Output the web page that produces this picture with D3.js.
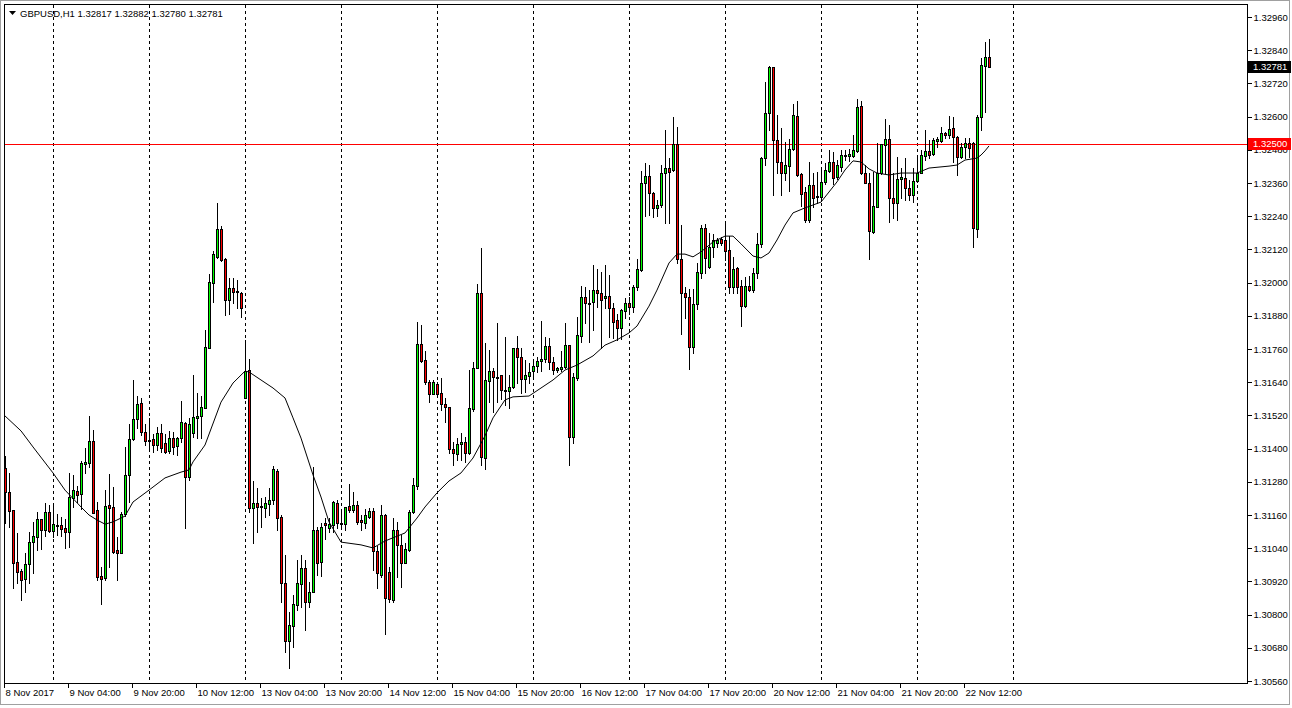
<!DOCTYPE html>
<html>
<head>
<meta charset="utf-8">
<script src="https://cdn.jsdelivr.net/npm/d3@7"></script>
<style>
  html, body { margin: 0; padding: 0; background: #ffffff; }
  svg { display: block; }
  text { font-family: "Liberation Sans", Arial, sans-serif; font-size: 9.5px; fill: #000; }
</style>
</head>
<body>
<svg id="chart" width="1292" height="708"></svg>
<script>
const symbolTitle = "GBPUSD,H1";
const lastBarOHLC = [1.32817, 1.32882, 1.32780, 1.32781];
const levelLine = 1.32500;

const openValues = [
1.31330,1.31243,1.31178,1.30990,1.30958,1.30929,1.30983,1.31062,1.31080,1.31146,
1.31106,1.31171,1.31102,1.31120,1.31124,1.31113,1.31099,1.31221,1.31247,1.31236,
1.31344,1.31348,1.31427,1.31178,1.30940,1.30932,1.31196,1.31189,1.31034,1.31023,
1.31164,1.31305,1.31435,1.31507,1.31565,1.31460,1.31427,1.31435,1.31413,1.31456,
1.31420,1.31391,1.31438,1.31409,1.31438,1.31493,1.31297,1.31456,1.31511,1.31518,
1.31547,1.31764,1.31999,1.32093,1.32194,1.32085,1.31937,1.31980,1.31970,1.31962,
1.31583,1.31684,1.31185,1.31203,1.31189,1.31185,1.31200,1.31214,1.31319,1.31153,
1.30914,1.30705,1.30759,1.30835,1.30911,1.30968,1.30846,1.30882,1.31106,1.30990,
1.31131,1.31113,1.31124,1.31203,1.31131,1.31127,1.31193,1.31178,1.31196,1.31142,
1.31131,1.31153,1.31174,1.31030,1.30943,1.31160,1.30954,1.30853,1.31106,1.31052,
1.30987,1.31034,1.31171,1.31265,1.31778,1.31720,1.31641,1.31597,1.31634,1.31601,
1.31561,1.31550,1.31399,1.31380,1.31417,1.31424,1.31384,1.31543,1.31691,1.31962,
1.31366,1.31644,1.31680,1.31655,1.31666,1.31612,1.31608,1.31623,1.31764,1.31731,
1.31652,1.31662,1.31680,1.31699,1.31717,1.31724,1.31771,1.31713,1.31684,1.31688,
1.31695,1.31774,1.31442,1.31655,1.31807,1.31948,1.31923,1.31930,1.31973,1.31962,
1.31944,1.31952,1.31908,1.31865,1.31836,1.31897,1.31926,1.31912,1.31984,1.32046,
1.32360,1.32385,1.32324,1.32270,1.32280,1.32396,1.32414,1.32407,1.32501,1.32085,
1.31962,1.31948,1.31767,1.31923,1.32035,1.32197,1.32056,1.32129,1.32143,1.32158,
1.32154,1.32118,1.31984,1.32053,1.31988,1.31915,1.31988,1.31973,1.32035,1.32140,
1.32450,1.32613,1.32779,1.32515,1.32436,1.32396,1.32421,1.32483,1.32602,1.32393,
1.32327,1.32226,1.32353,1.32309,1.32309,1.32364,1.32403,1.32436,1.32382,1.32418,
1.32458,1.32458,1.32458,1.32476,1.32638,1.32396,1.32360,1.32183,1.32273,1.32396,
1.32497,1.32519,1.32306,1.32288,1.32374,1.32378,1.32342,1.32317,1.32367,1.32396,
1.32458,1.32476,1.32465,1.32512,1.32512,1.32541,1.32534,1.32559,1.32526,1.32454,
1.32490,1.32505,1.32505,1.32194,1.32599,1.32783,1.32817];

const highValues = [
1.31373,1.31312,1.31178,1.31095,1.30965,1.31023,1.31099,1.31135,1.31171,1.31146,
1.31203,1.31196,1.31196,1.31164,1.31153,1.31146,1.31312,1.31305,1.31265,1.31355,
1.31402,1.31518,1.31467,1.31207,1.30972,1.31250,1.31308,1.31261,1.31080,1.31171,
1.31406,1.31489,1.31648,1.31590,1.31583,1.31489,1.31511,1.31453,1.31478,1.31489,
1.31453,1.31464,1.31460,1.31442,1.31572,1.31496,1.31511,1.31666,1.31601,1.31590,
1.31829,1.32031,1.32114,1.32288,1.32205,1.32089,1.32017,1.32017,1.32009,1.31966,
1.31793,1.31724,1.31283,1.31258,1.31221,1.31225,1.31258,1.31337,1.31326,1.31160,
1.31015,1.30809,1.30871,1.30997,1.31015,1.30997,1.30918,1.31334,1.31117,1.31131,
1.31149,1.31149,1.31211,1.31214,1.31171,1.31189,1.31272,1.31243,1.31211,1.31160,
1.31182,1.31185,1.31185,1.31048,1.31196,1.31164,1.30972,1.31149,1.31135,1.31088,
1.31059,1.31178,1.31294,1.31858,1.31847,1.31753,1.31648,1.31648,1.31641,1.31655,
1.31583,1.31550,1.31424,1.31438,1.31456,1.31442,1.31684,1.31713,1.31995,1.32125,
1.31782,1.31756,1.31691,1.31854,1.31666,1.31803,1.31666,1.31764,1.31807,1.31764,
1.31720,1.31709,1.31724,1.31731,1.31861,1.31803,1.31800,1.31731,1.31695,1.31753,
1.31854,1.31774,1.31673,1.31876,1.31988,1.31984,1.31973,1.32064,1.32049,1.32038,
1.32064,1.32027,1.31926,1.31887,1.31905,1.31944,1.31948,1.31991,1.32085,1.32403,
1.32432,1.32425,1.32327,1.32299,1.32425,1.32552,1.32450,1.32599,1.32562,1.32208,
1.31984,1.31977,1.31977,1.32071,1.32208,1.32212,1.32179,1.32176,1.32161,1.32165,
1.32223,1.32168,1.32093,1.32056,1.32009,1.32020,1.32024,1.32053,1.32179,1.32454,
1.32725,1.32783,1.32779,1.32606,1.32559,1.32508,1.32519,1.32646,1.32656,1.32396,
1.32346,1.32436,1.32396,1.32400,1.32407,1.32432,1.32479,1.32472,1.32443,1.32479,
1.32479,1.32483,1.32534,1.32664,1.32656,1.32425,1.32396,1.32400,1.32505,1.32501,
1.32591,1.32570,1.32396,1.32454,1.32414,1.32450,1.32371,1.32414,1.32450,1.32479,
1.32552,1.32515,1.32523,1.32526,1.32562,1.32544,1.32602,1.32599,1.32530,1.32505,
1.32523,1.32523,1.32508,1.32606,1.32812,1.32870,1.32882];

const lowValues = [
1.31131,1.31117,1.30896,1.30914,1.30853,1.30882,1.30914,1.30950,1.31034,1.31037,
1.31084,1.31099,1.31080,1.31088,1.31084,1.31041,1.31044,1.31189,1.31207,1.31182,
1.31312,1.31334,1.31167,1.30925,1.30838,1.30925,1.30972,1.31023,1.30925,1.31023,
1.31156,1.31207,1.31431,1.31474,1.31449,1.31413,1.31395,1.31388,1.31395,1.31388,
1.31384,1.31384,1.31380,1.31377,1.31424,1.31113,1.31287,1.31442,1.31438,1.31438,
1.31547,1.31764,1.31930,1.32089,1.32078,1.31883,1.31887,1.31926,1.31908,1.31876,
1.31583,1.31171,1.31059,1.31099,1.31117,1.31153,1.31160,1.31200,1.31106,1.30846,
1.30665,1.30607,1.30683,1.30817,1.30827,1.30744,1.30827,1.30882,1.30943,1.30940,
1.31073,1.31099,1.31099,1.31113,1.31113,1.31106,1.31171,1.31171,1.31127,1.31106,
1.31113,1.31149,1.30961,1.30896,1.30936,1.30730,1.30846,1.30846,1.30936,1.30900,
1.30987,1.31030,1.31167,1.31254,1.31713,1.31634,1.31568,1.31597,1.31594,1.31540,
1.31496,1.31384,1.31341,1.31359,1.31359,1.31352,1.31380,1.31536,1.31691,1.31341,
1.31326,1.31568,1.31532,1.31568,1.31579,1.31558,1.31547,1.31619,1.31637,1.31601,
1.31605,1.31637,1.31652,1.31677,1.31680,1.31713,1.31688,1.31670,1.31677,1.31680,
1.31691,1.31341,1.31420,1.31648,1.31785,1.31854,1.31785,1.31829,1.31912,1.31764,
1.31908,1.31803,1.31800,1.31793,1.31796,1.31872,1.31887,1.31894,1.31973,1.32042,
1.32241,1.32244,1.32237,1.32241,1.32273,1.32215,1.32215,1.32403,1.32071,1.31814,
1.31872,1.31688,1.31746,1.31905,1.32017,1.32035,1.32053,1.32093,1.32129,1.32136,
1.32082,1.31962,1.31962,1.31962,1.31843,1.31912,1.31970,1.31966,1.32017,1.32129,
1.32425,1.32552,1.32317,1.32396,1.32317,1.32371,1.32331,1.32479,1.32385,1.32277,
1.32219,1.32219,1.32273,1.32288,1.32295,1.32356,1.32400,1.32356,1.32374,1.32403,
1.32443,1.32440,1.32454,1.32472,1.32393,1.32360,1.32085,1.32179,1.32273,1.32393,
1.32396,1.32219,1.32233,1.32226,1.32306,1.32299,1.32299,1.32291,1.32364,1.32396,
1.32443,1.32450,1.32461,1.32490,1.32508,1.32523,1.32523,1.32436,1.32389,1.32450,
1.32450,1.32454,1.32129,1.32165,1.32552,1.32617,1.32780];

const closeValues = [
1.31243,1.31174,1.30987,1.30954,1.30925,1.30983,1.31062,1.31084,1.31146,1.31106,
1.31171,1.31102,1.31127,1.31124,1.31109,1.31099,1.31225,1.31250,1.31232,1.31348,
1.31352,1.31427,1.31167,1.30936,1.30929,1.31193,1.31185,1.31026,1.31023,1.31164,
1.31305,1.31435,1.31507,1.31561,1.31460,1.31427,1.31431,1.31413,1.31456,1.31402,
1.31388,1.31438,1.31406,1.31438,1.31496,1.31297,1.31489,1.31514,1.31518,1.31550,
1.31767,1.32002,1.32103,1.32194,1.32082,1.31937,1.31980,1.31966,1.31966,1.31908,
1.31680,1.31185,1.31203,1.31189,1.31193,1.31203,1.31214,1.31326,1.31149,1.30914,
1.30705,1.30762,1.30838,1.30914,1.30968,1.30846,1.30882,1.31106,1.30987,1.31117,
1.31124,1.31127,1.31207,1.31131,1.31127,1.31189,1.31178,1.31196,1.31135,1.31135,
1.31160,1.31174,1.31030,1.30950,1.31160,1.30860,1.30856,1.31106,1.31052,1.30987,
1.31037,1.31171,1.31268,1.31778,1.31717,1.31641,1.31597,1.31641,1.31597,1.31561,
1.31550,1.31399,1.31384,1.31417,1.31424,1.31384,1.31547,1.31691,1.31962,1.31370,
1.31648,1.31680,1.31659,1.31659,1.31612,1.31608,1.31623,1.31764,1.31731,1.31652,
1.31666,1.31677,1.31699,1.31717,1.31724,1.31771,1.31713,1.31684,1.31691,1.31695,
1.31774,1.31442,1.31659,1.31811,1.31948,1.31926,1.31926,1.31973,1.31962,1.31937,
1.31952,1.31908,1.31858,1.31836,1.31901,1.31926,1.31912,1.31984,1.32049,1.32360,
1.32385,1.32324,1.32270,1.32280,1.32396,1.32414,1.32400,1.32501,1.32085,1.31962,
1.31948,1.31767,1.31923,1.32038,1.32197,1.32089,1.32129,1.32154,1.32154,1.32143,
1.32114,1.31984,1.32049,1.31984,1.31915,1.31988,1.31973,1.32035,1.32140,1.32450,
1.32613,1.32779,1.32515,1.32436,1.32396,1.32425,1.32483,1.32606,1.32389,1.32320,
1.32226,1.32353,1.32306,1.32313,1.32364,1.32407,1.32436,1.32378,1.32425,1.32461,
1.32461,1.32465,1.32479,1.32635,1.32396,1.32360,1.32187,1.32277,1.32396,1.32501,
1.32519,1.32306,1.32288,1.32374,1.32382,1.32342,1.32317,1.32367,1.32396,1.32461,
1.32476,1.32461,1.32515,1.32519,1.32541,1.32534,1.32555,1.32526,1.32454,1.32490,
1.32505,1.32487,1.32197,1.32599,1.32787,1.32817,1.32781];

// moving average read at selected bars
const maBars = [0,4,7,12,15,19,21,23,25,27,30,32,36,40,44,46,47,50,54,57,60,61,64,67,70,72,74,77,79,81,84,89,92,95,100,103,105,108,111,114,117,120,122,125,127,131,134,137,140,143,147,150,153,156,158,161,163,166,168,170,172,174,177,180,182,184,187,189,191,193,195,197,200,204,208,210,212,214,216,218,221,224,228,231,236,238,240,243,244,245,246];
const maValues = [1.31518,1.31464,1.31406,1.31312,1.31250,1.31189,1.31160,1.31142,1.31127,1.31135,1.31156,1.31207,1.31250,1.31294,1.31315,1.31323,1.31352,1.31413,1.31568,1.31637,1.31680,1.31677,1.31648,1.31619,1.31583,1.31511,1.31438,1.31305,1.31225,1.31135,1.31062,1.31052,1.31041,1.31066,1.31095,1.31149,1.31189,1.31240,1.31283,1.31312,1.31366,1.31446,1.31511,1.31576,1.31587,1.31590,1.31619,1.31648,1.31684,1.31702,1.31735,1.31774,1.31793,1.31818,1.31843,1.31915,1.31973,1.32071,1.32103,1.32103,1.32093,1.32111,1.32147,1.32168,1.32168,1.32140,1.32096,1.32089,1.32107,1.32154,1.32208,1.32252,1.32270,1.32291,1.32364,1.32407,1.32440,1.32436,1.32411,1.32396,1.32389,1.32396,1.32396,1.32414,1.32421,1.32425,1.32443,1.32450,1.32461,1.32476,1.32494];

const priceTicks = [1.30560,1.30680,1.30800,1.30920,1.31040,1.31160,1.31280,1.31400,1.31520,1.31640,1.31760,1.31880,1.32000,1.32120,1.32240,1.32360,1.32480,1.32600,1.32720,1.32840,1.32960];
const timeLabelBars = [0,16,32,48,64,80,96,112,128,144,160,176,192,208,224,240];
const timeLabels = ["8 Nov 2017","9 Nov 04:00","9 Nov 20:00","10 Nov 12:00","13 Nov 04:00","13 Nov 20:00","14 Nov 12:00","15 Nov 04:00","15 Nov 20:00","16 Nov 12:00","17 Nov 04:00","17 Nov 20:00","20 Nov 12:00","21 Nov 04:00","21 Nov 20:00","22 Nov 12:00"];
const dayStartBars = [12,36,60,84,108,132,156,180,204,228,252];

const bars = openValues.map((o, i) => ({i, o, h: highValues[i], l: lowValues[i], c: closeValues[i]}));

const svg = d3.select("#chart");
const plotLeft = 4, plotTop = 4, plotRight = 1247, plotBottom = 683;

const x = d3.scaleLinear().domain([0, 252]).range([5, 1013]);
const y = d3.scaleLinear().domain([1.30560, 1.32960]).range([681, 17]);
const py = v => Math.round(y(v));
const px = i => Math.round(x(i));

// window frame
svg.append("rect").attr("x", 0.5).attr("y", 0.5).attr("width", 1289).attr("height", 704)
  .attr("fill", "#fff").attr("stroke", "#a0a0a0");

// plot frame
svg.append("rect").attr("x", plotLeft + 0.5).attr("y", plotTop + 0.5)
  .attr("width", plotRight - plotLeft).attr("height", plotBottom - plotTop)
  .attr("fill", "none").attr("stroke", "#000").attr("shape-rendering", "crispEdges");

// day separators
svg.append("g").selectAll("line").data(dayStartBars).join("line")
  .attr("x1", d => px(d) + 0.5).attr("x2", d => px(d) + 0.5)
  .attr("y1", plotTop + 1).attr("y2", plotBottom)
  .attr("stroke", "#000").attr("stroke-width", 1).attr("stroke-dasharray", "3,3")
  .attr("shape-rendering", "crispEdges");

// level line
svg.append("line").attr("x1", plotLeft + 1).attr("x2", plotRight)
  .attr("y1", py(levelLine) + 0.5).attr("y2", py(levelLine) + 0.5)
  .attr("stroke", "#ff0000").attr("shape-rendering", "crispEdges");

// candles
const cg = svg.append("g").attr("shape-rendering", "crispEdges");
const candle = cg.selectAll("g").data(bars).join("g");
candle.append("rect")
  .attr("x", d => px(d.i)).attr("width", 1)
  .attr("y", d => py(d.h)).attr("height", d => Math.max(1, py(d.l) - py(d.h) + 1))
  .attr("fill", "#000");
candle.append("rect")
  .attr("x", d => px(d.i) - 1).attr("width", 3)
  .attr("y", d => py(Math.max(d.o, d.c)))
  .attr("height", d => Math.max(1, py(Math.min(d.o, d.c)) - py(Math.max(d.o, d.c)) + 1))
  .attr("fill", "#000");
candle.filter(d => py(Math.min(d.o, d.c)) - py(Math.max(d.o, d.c)) >= 2).append("rect")
  .attr("x", d => px(d.i)).attr("width", 1)
  .attr("y", d => py(Math.max(d.o, d.c)) + 1)
  .attr("height", d => py(Math.min(d.o, d.c)) - py(Math.max(d.o, d.c)) - 1)
  .attr("fill", d => d.c >= d.o ? "#00ff00" : "#ff0000");

// moving average
const maPts = maBars.map((b, k) => [b, maValues[k]]);
svg.append("path").datum(maPts)
  .attr("d", d3.line().x(d => x(d[0])).y(d => y(d[1])))
  .attr("fill", "none").attr("stroke", "#000").attr("stroke-width", 1);

// price axis
const yAxis = d3.axisRight(y).tickValues(priceTicks).tickSize(4).tickPadding(2)
  .tickFormat(d3.format(".5f"));
const ya = svg.append("g").attr("transform", `translate(${plotRight + 0.5},0)`).call(yAxis);
ya.select(".domain").remove();
ya.selectAll("line").attr("stroke", "#000").attr("shape-rendering", "crispEdges");
ya.selectAll("text").attr("font-family", "Liberation Sans, Arial, sans-serif").attr("font-size", 9.5).attr("fill", "#000");

// time axis
const xAxis = d3.axisBottom(x).tickValues(timeLabelBars).tickSize(4).tickPadding(2)
  .tickFormat((d, k) => timeLabels[k]);
const xa = svg.append("g").attr("transform", `translate(0,${plotBottom + 0.5})`).call(xAxis);
xa.select(".domain").remove();
xa.selectAll("line").attr("stroke", "#000").attr("shape-rendering", "crispEdges")
  .attr("transform", "translate(-1.5,0)");
xa.selectAll("text").attr("text-anchor", "start").attr("x", 0)
  .attr("font-family", "Liberation Sans, Arial, sans-serif").attr("font-size", 9.5).attr("fill", "#000");

// price tags (drawn over the axis labels, as in the terminal)
function tag(value, color) {
  const cy = y(value);
  svg.append("rect").attr("x", plotRight + 1).attr("y", Math.round(cy) - 6)
    .attr("width", 43).attr("height", 12).attr("fill", color);
  svg.append("text").attr("x", plotRight + 6).attr("y", cy).attr("dy", "0.34em")
    .attr("fill", "#fff").style("fill", "#fff").text(d3.format(".5f")(value));
}
tag(levelLine, "#ff0000");
tag(lastBarOHLC[3], "#000000");

// header
svg.append("path").attr("d", "M9,11 L16,11 L12.5,15 Z").attr("fill", "#000");
svg.append("text").attr("x", 20).attr("y", 16.5)
  .text(symbolTitle + "  " + lastBarOHLC.map(d3.format(".5f")).join(" "));
</script>
</body>
</html>
